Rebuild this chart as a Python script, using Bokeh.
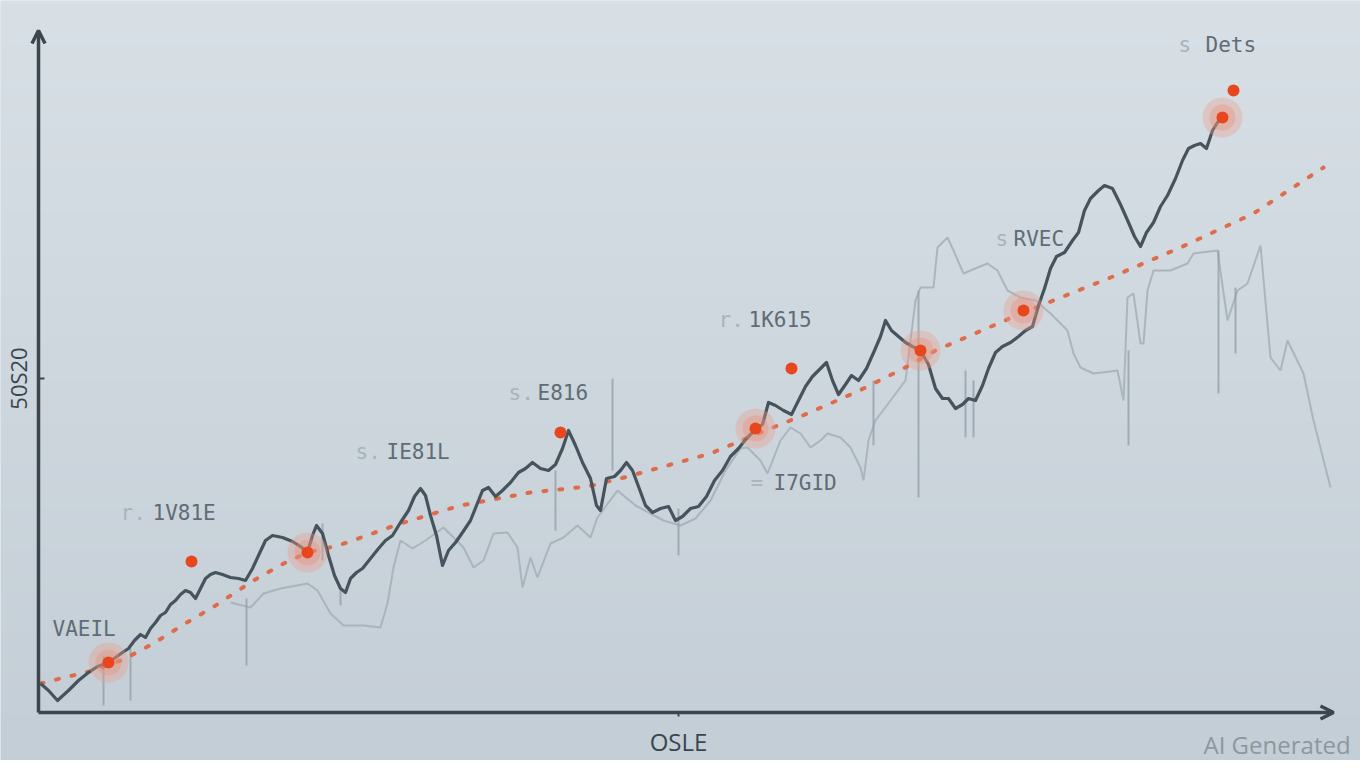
import numpy as np
from bokeh.plotting import figure
from bokeh.models import Range1d, Arrow, OpenHead, FixedTicker, Label
from bokeh.core.properties import value
from bokeh.embed import file_html
from bokeh.resources import INLINE

# ---- data ----
main_x = [2,10,19,30,40,50,59,70,77,84,90,96,102,107,112,117,122,127,132,137,
          142,147,152,157,162,167,172,177,184,192,200,207,214,220,227,234,244,254,262,269,
          274,278,284,290,296,302,307,312,318,324,332,340,347,354,362,370,376,382,387,392,
          398,404,410,417,424,432,438,444,450,457,464,472,480,487,494,502,510,517,524,530,
          537,544,552,558,562,568,576,582,588,594,600,607,614,622,630,637,644,652,660,668,
          676,684,692,700,708,716,724,730,737,745,753,760,767,774,782,788,794,800,807,813,
          820,828,836,842,847,853,860,867,874,882,890,897,904,910,917,924,930,937,944,950,
          957,964,972,980,987,994,1000,1006,1012,1018,1026,1034,1040,1046,1052,1060,1066,1074,1082,1090,
          1096,1102,1108,1115,1122,1129,1137,1144,1150,1156,1162,1168,1174,1179,1184]
main_y = [29,22,12,22,32,40,46,50,55,60,64,72,78,75,84,90,97,100,108,112,
          118,122,120,114,124,134,138,140,138,135,134,132,144,157,172,177,175,171,166,160,
          177,187,179,157,137,124,120,134,140,144,154,164,172,177,190,202,216,224,217,197,
          177,147,162,170,180,192,207,222,225,216,222,230,240,244,250,244,242,248,264,282,
          267,250,234,207,202,234,236,242,250,242,226,207,200,204,206,192,196,204,206,216,
          232,242,256,264,274,282,288,310,307,302,298,312,326,336,344,350,332,318,328,337,
          332,344,362,376,392,382,376,370,366,362,348,324,314,314,304,308,314,312,327,344,
          360,366,370,376,382,386,407,424,444,456,460,472,480,502,514,522,527,524,508,490,
          476,466,480,490,506,517,534,552,564,567,569,564,582,590,595]

grey_x = [192,212,225,242,269,279,292,305,325,342,349,355,362,374,387,405,425,435,445,455,
          469,479,484,492,499,512,525,539,552,559,579,597,612,625,642,657,672,687,702,709,
          722,729,742,752,762,772,782,789,802,812,822,825,830,837,852,867,877,882,895,899,
          909,915,925,939,949,959,969,982,997,1012,1029,1035,1042,1055,1079,1085,1089,1095,1102,1105,
          1109,1115,1132,1149,1155,1179,1189,1199,1209,1222,1232,1242,1249,1265,1275,1292]
grey_y = [110,105,119,124,129,122,99,87,87,85,109,145,172,164,172,185,165,145,152,179,
          180,165,125,155,135,169,175,187,175,195,222,207,199,192,187,194,212,242,264,265,
          252,239,272,285,279,265,272,279,275,265,245,232,272,292,312,332,412,425,425,465,
          475,462,439,445,449,442,422,415,412,399,382,359,345,339,342,312,415,419,369,369,
          422,442,442,449,459,462,392,422,429,467,355,342,372,339,292,225]

spike_x = [65, 92, 208, 284, 302, 517, 574, 640, 835, 880, 927, 935, 1090, 1180, 1197]
spike_y0 = [7, 12, 47, 152, 107, 182, 242, 157, 267, 215, 275, 275, 267, 319, 359]
spike_y1 = [57, 64, 114, 189, 122, 242, 334, 204, 332, 422, 342, 332, 362, 462, 425]

trend_x = [2,22,55,85,115,145,174,215,247,269,300,362,422,492,549,582,672,722,769,819,
           865,897,985,1072,1142,1215,1285]
trend_y = [29,34,42,53,69,88,105,132,150,160,167,189,207,220,226,234,259,280,299,321,
           344,362,400,435,465,499,545]

halo_x = [70, 269, 717, 882, 985, 1184]
halo_y = [50, 160, 284, 362, 402, 595]
dot_x = [70, 153, 269, 522, 717, 753, 882, 985, 1184, 1195]
dot_y = [50, 151, 160, 280, 284, 344, 362, 402, 595, 622]

label_text = ["VAEIL", "1V81E", "IE81L", "E816", "1K615", "I7GID", "RVEC", "Dets"]
label_x = [14, 114, 348, 499, 710, 735, 975, 1167]
label_y = [84, 200, 261, 320, 393, 230, 474, 668]
prefix_text = ["r.", "s.", "s.", "r.", "=", "s", "s"]
prefix_x = [82, 317, 470, 680, 712, 957, 1140]
prefix_y = [200, 261, 320, 393, 230, 474, 668]

x_tick = [640]
x_tick_label = ["OSLE"]
y_tick = [334]
y_tick_label = ["50S20"]
x_axis_end = 1295
y_axis_end = 682

BG_TOP = (0xd8, 0xe0, 0xe6)
BG_BOT = (0xc4, 0xce, 0xd6)
AX = "#3b464e"

p = figure(width=1360, height=760, x_range=Range1d(-38, 1322), y_range=Range1d(-48, 712),
           output_backend="svg", toolbar_location=None,
           min_border_left=0, min_border_right=0, min_border_top=0, min_border_bottom=0,
           background_fill_color="#cfd8df", border_fill_color="#cfd8df", outline_line_color=None)
p.grid.visible = False

# soft vertical background gradient
n = 256
t = np.linspace(0, 1, n)[:, None]
r = (BG_BOT[0] + (BG_TOP[0] - BG_BOT[0]) * t).astype(np.uint32)
g = (BG_BOT[1] + (BG_TOP[1] - BG_BOT[1]) * t).astype(np.uint32)
b = (BG_BOT[2] + (BG_TOP[2] - BG_BOT[2]) * t).astype(np.uint32)
img = (255 << 24) | (b << 16) | (g << 8) | r
p.image_rgba(image=[img], x=-38, y=-48, dw=1360, dh=760)

p.xaxis.fixed_location = 0
p.xaxis.ticker = FixedTicker(ticks=x_tick)
p.xaxis.major_label_overrides = dict(zip(x_tick, x_tick_label))
p.xaxis.axis_line_color = None
p.xaxis.major_tick_line_color = AX
p.xaxis.major_tick_line_width = 2
p.xaxis.major_tick_out = 4
p.xaxis.major_tick_in = 0
p.xaxis.minor_tick_line_color = None
p.xaxis.major_label_standoff = 8
p.xaxis.major_label_text_font = "Open Sans"
p.xaxis.major_label_text_font_size = "24px"
p.xaxis.major_label_text_color = "#3a454d"

p.yaxis.fixed_location = 0
p.yaxis.ticker = FixedTicker(ticks=y_tick)
p.yaxis.major_label_overrides = dict(zip(y_tick, y_tick_label))
p.yaxis.axis_line_color = None
p.yaxis.major_tick_line_color = AX
p.yaxis.major_tick_line_width = 2
p.yaxis.major_tick_out = 0
p.yaxis.major_tick_in = 6
p.yaxis.minor_tick_line_color = None
p.yaxis.major_label_standoff = 6
p.yaxis.major_label_orientation = "parallel"
p.yaxis.major_label_text_font = "Open Sans"
p.yaxis.major_label_text_font_size = "22px"
p.yaxis.major_label_text_color = "#3a454d"

# faint secondary series
p.line(grey_x, grey_y, line_color="#a3afb8", line_width=2, line_alpha=0.85)
p.segment(x0=spike_x, y0=spike_y0, x1=spike_x, y1=spike_y1,
          line_color="#95a1aa", line_width=2, line_alpha=0.8)

# dotted trend
p.line(trend_x, trend_y, line_color="#e0603c", line_width=4, line_dash="3 13",
       line_cap="round", line_alpha=0.9)

# main series
p.line(main_x, main_y, line_color="#46535d", line_width=3.2, line_join="round")

# halos and dots
p.scatter(halo_x, halo_y, size=40, fill_color="#ec9a88", fill_alpha=0.35, line_color=None)
p.scatter(halo_x, halo_y, size=26, fill_color="#eb8b76", fill_alpha=0.35, line_color=None)
p.scatter(dot_x, dot_y, size=12, fill_color="#e8471e", line_color=None)

# annotations
p.text(prefix_x, prefix_y, text=prefix_text, text_font=value("DejaVu Sans Mono"),
       text_font_size="21px", text_color="#a8b3bb", text_baseline="middle", text_align="left")
p.text(label_x, label_y, text=label_text, text_font=value("DejaVu Sans Mono"),
       text_font_size="21px", text_color="#5f6c75", text_baseline="middle", text_align="left")

# axes with arrowheads
p.add_layout(Arrow(end=OpenHead(size=13, line_color=AX, line_width=3.5), x_start=0, y_start=0,
                   x_end=0, y_end=y_axis_end, line_color=AX, line_width=3.5))
p.add_layout(Arrow(end=OpenHead(size=13, line_color=AX, line_width=3.5), x_start=0, y_start=0,
                   x_end=x_axis_end, y_end=0, line_color=AX, line_width=3.5))

p.add_layout(Label(x=1165, y=-32, text="AI Generated", text_font="Open Sans",
                   text_font_size="24px", text_color="#8d979e", text_baseline="middle"))

open("out.html", "w").write(file_html(p, INLINE))
